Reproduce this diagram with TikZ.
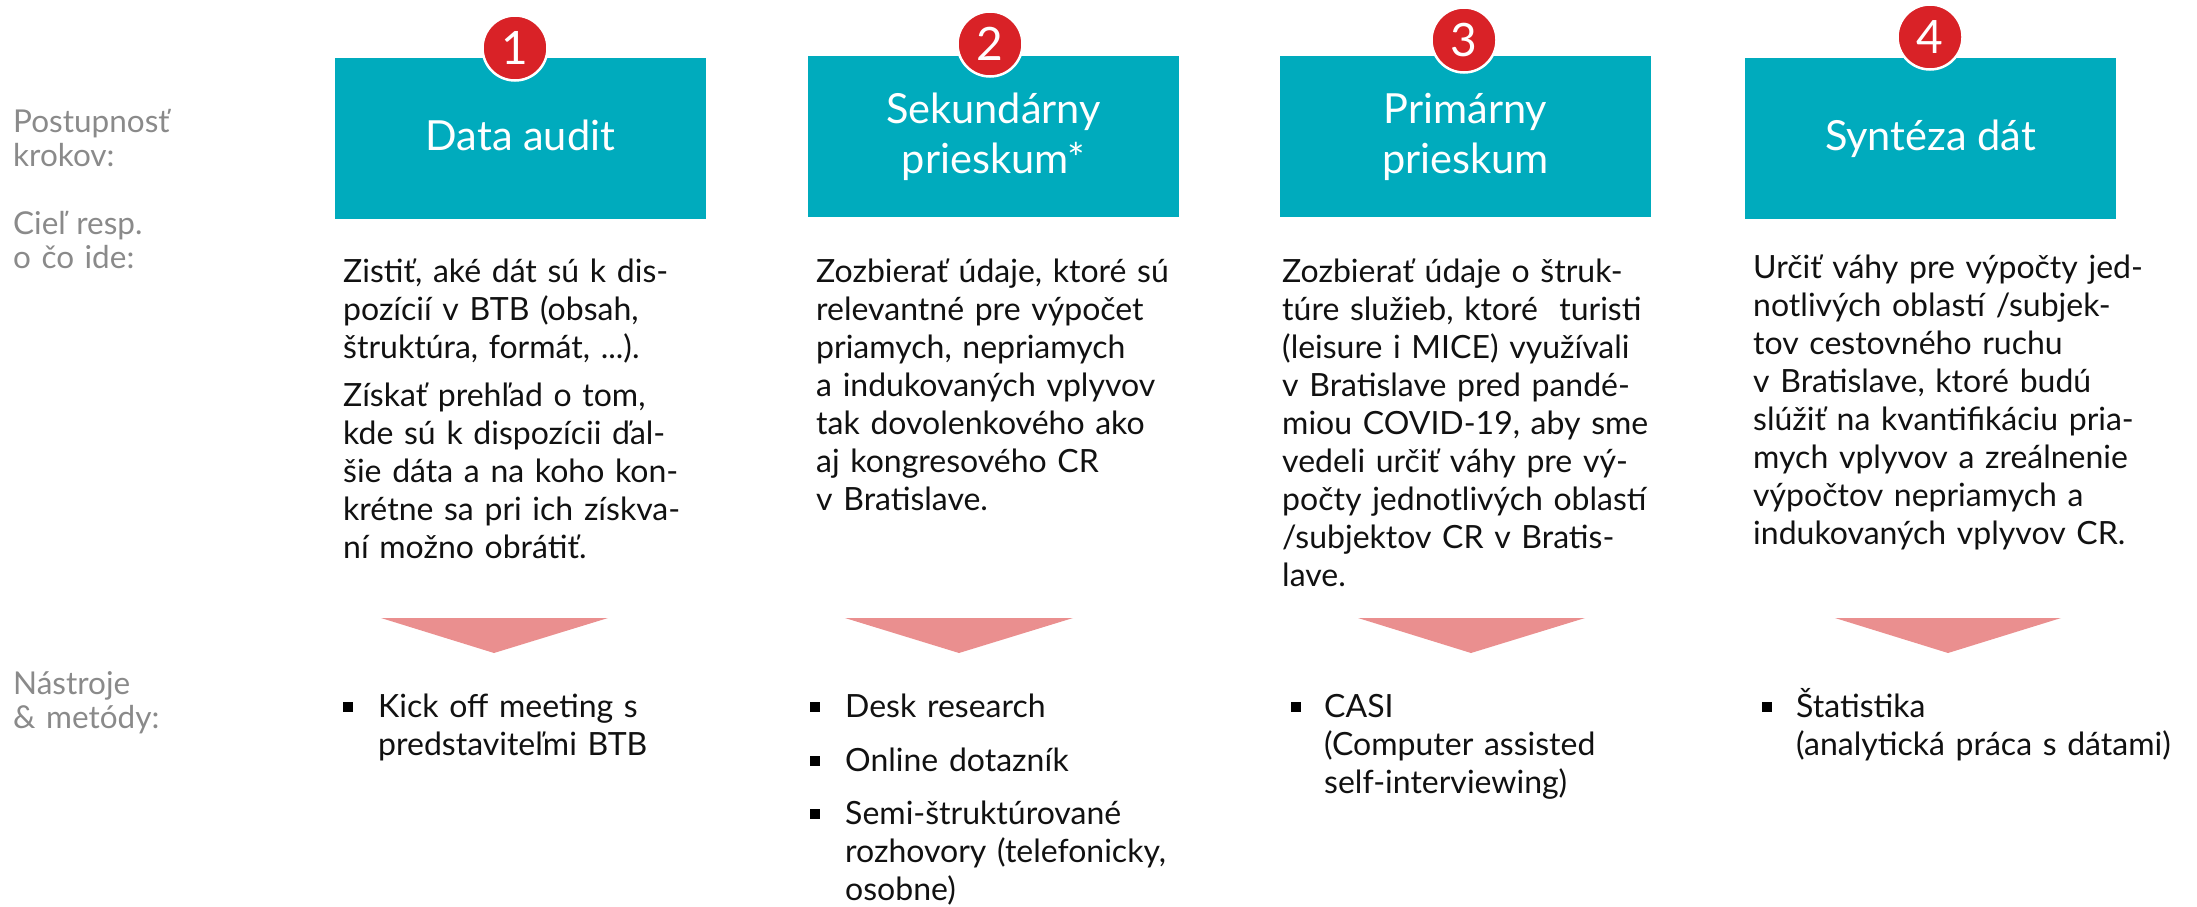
\documentclass[tikz,border=0pt]{standalone}
\usepackage{fontspec}
\setmainfont{Lato}
\definecolor{boxteal}{HTML}{00ABBD}
\definecolor{numred}{HTML}{D92227}
\definecolor{arrowpink}{HTML}{EA8F8F}
\definecolor{labelgray}{HTML}{8A8A8A}
\definecolor{bodyblack}{HTML}{111111}
\tikzset{
  stepbox/.style={rectangle, fill=boxteal, minimum width=371pt, minimum height=161pt,
    inner sep=0pt, align=center, text=white, font=\fontsize{41.5}{50}\selectfont},
  numcircle/.style={circle, fill=numred, draw=white, line width=2.5pt, minimum size=65pt,
    inner sep=0pt, text=white, font=\fontsize{46}{46}\selectfont},
  bodytext/.style={anchor=base west, inner sep=0pt, text width=470pt, align=left,
    text=bodyblack, font=\fontsize{32}{38}\selectfont},
  sidelabel/.style={anchor=base west, inner sep=0pt, text width=200pt, align=left,
    text=labelgray, font=\fontsize{31.5}{34}\selectfont},
  bulletsq/.style={rectangle, fill=black, minimum size=10pt, inner sep=0pt},
  pointer/.style={fill=arrowpink}
}
\begin{document}
\begin{tikzpicture}[x=1pt,y=-1pt]
\useasboundingbox (0,0) rectangle (2197,907);

% side labels
\node[sidelabel] (lab1) at (13,132) {Postupnosť\\krokov:};
\node[sidelabel] (lab2) at (13,234) {Cieľ resp.\\o čo ide:};
\node[sidelabel] (lab3) at (13,694) {Nástroje\\\& metódy:};

% step boxes
\node[stepbox] (b1) at (520.5,138.5) {Data audit\vphantom{y}};
\node[stepbox] (b2) at (993.5,136.5) {Sekundárny\\prieskum*};
\node[stepbox] (b3) at (1465.5,136.5) {Primárny\\prieskum};
\node[stepbox] (b4) at (1930.5,138.5) {Syntéza dát};

% number circles
\node[numcircle] (c1) at (515,48) {1};
\node[numcircle] (c2) at (990,44) {2};
\node[numcircle] (c3) at (1464,40) {3};
\node[numcircle] (c4) at (1930,37) {4};

% goals
\node[bodytext] (g1) at (343,282) {Zistiť, aké dát sú k dis-\\pozícií v BTB (obsah,\\štruktúra, formát, ...).\\[10pt]Získať prehľad o tom,\\kde sú k dispozícii ďal-\\šie dáta a na koho kon-\\krétne sa pri ich získva-\\ní možno obrátiť.};
\node[bodytext] (g2) at (816,282) {Zozbierať údaje, ktoré sú\\relevantné pre výpočet\\priamych, nepriamych\\a indukovaných vplyvov\\tak dovolenkového ako\\aj kongresového CR\\v Bratislave.};
\node[bodytext] (g3) at (1282,282) {Zozbierať údaje o štruk-\\túre služieb, ktoré\ \ turisti\\(leisure i MICE) využívali\\v Bratislave pred pandé-\\miou COVID-19, aby sme\\vedeli určiť váhy pre vý-\\počty jednotlivých oblastí\\/subjektov CR v Bratis-\\lave.};
\node[bodytext] (g4) at (1753,278) {Určiť váhy pre výpočty jed-\\notlivých oblastí /subjek-\\tov cestovného ruchu\\v Bratislave, ktoré budú\\slúžiť na kvantifikáciu pria-\\mych vplyvov a zreálnenie\\výpočtov nepriamych a\\indukovaných vplyvov CR.};

% pointers
\fill[pointer] (381,618) -- (608,618) -- (494,653) -- cycle;
\fill[pointer] (845,618) -- (1073,618) -- (959,653) -- cycle;
\fill[pointer] (1358,618) -- (1585,618) -- (1471,653) -- cycle;
\fill[pointer] (1835,618) -- (2061,618) -- (1948,653) -- cycle;

% tools
\node[bulletsq] (q1a) at (348,707) {};
\node[bodytext] (m1a) at (378,717) {Kick off meeting s\\predstaviteľmi BTB};
\node[bulletsq] (q2a) at (815,707) {};
\node[bodytext] (m2a) at (845,717) {Desk research};
\node[bulletsq] (q2b) at (815,761) {};
\node[bodytext] (m2b) at (845,771) {Online dotazník};
\node[bulletsq] (q2c) at (815,814) {};
\node[bodytext] (m2c) at (845,824) {Semi-štruktúrované\\rozhovory (telefonicky,\\osobne)};
\node[bulletsq] (q3a) at (1296,707) {};
\node[bodytext] (m3a) at (1324,717) {CASI\\(Computer assisted\\self-interviewing)};
\node[bulletsq] (q4a) at (1767,707) {};
\node[bodytext] (m4a) at (1796,717) {Štatistika\\(analytická práca s dátami)};
\end{tikzpicture}
\end{document}
